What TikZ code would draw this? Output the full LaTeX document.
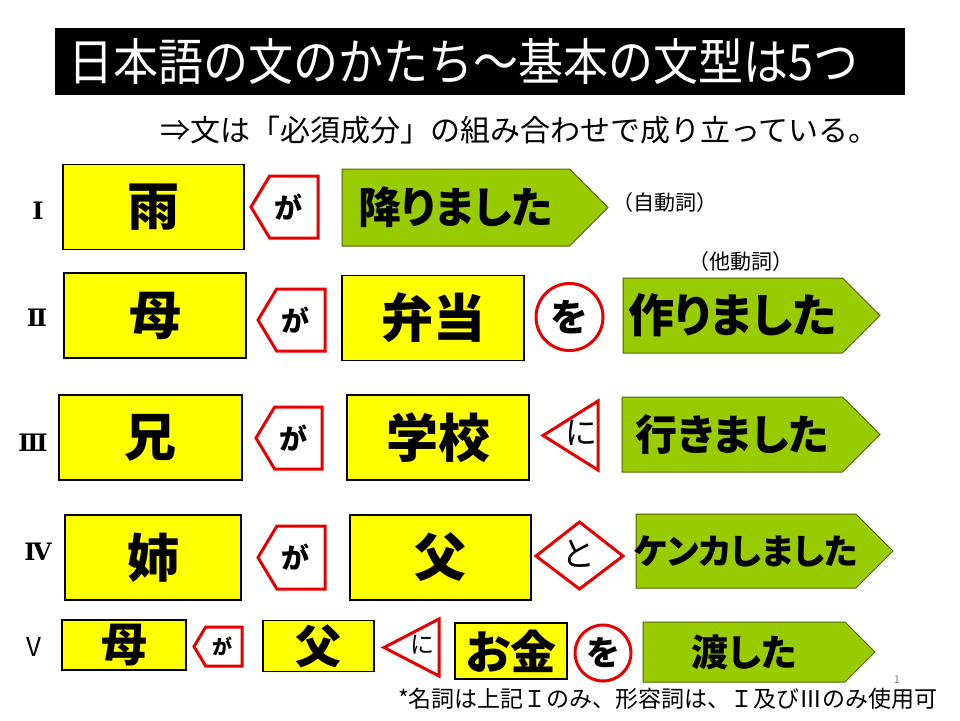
\documentclass[tikz,border=0pt]{standalone}
\usepackage{fontspec}
\usepackage{tikz}
\usetikzlibrary{positioning}
\newfontfamily\jp[RawFeature=+palt]{Noto Sans CJK JP}
\newfontfamily\jpr{Noto Sans CJK JP}
\newfontfamily\romfont{DejaVu Serif}
\newcommand{\fsz}[1]{\fontsize{#1}{#1}\selectfont}
\definecolor{nounyellow}{RGB}{255,255,0}
\definecolor{verbgreen}{RGB}{153,204,0}
\definecolor{verbedge}{RGB}{80,100,0}
\definecolor{particlered}{RGB}{230,0,0}

% green verb arrow: [opts]{name}{left}{tip}{top}{bottom}{text}
\newcommand{\verbarrow}[7][]{%
  \draw[verb] (#3,#5) -- ({#4-(#6-#5)/2},#5) -- (#4,{(#5+#6)/2}) -- ({#4-(#6-#5)/2},#6) -- (#3,#6) -- cycle;
  \node[verbtext,#1] (#2) at ({(#3+#4-(#6-#5)/2)/2},{(#5+#6)/2}) {#7};}
% ga tag (pentagon pointing left): [opts]{name}{tip}{right}{top}{bottom}
\newcommand{\gatag}[6][]{%
  \draw[particle] (#3,{(#5+#6)/2}) -- ({#3+0.3*(#6-#5)},#5) -- (#4,#5) -- (#4,#6) -- ({#3+0.3*(#6-#5)},#6) -- cycle;
  \node[particletext,#1] (#2) at ({(#3+#4)/2+4},{(#5+#6)/2}) {が};}
% ni tag (triangle pointing left): [opts]{name}{tip}{right}{top}{bottom}
\newcommand{\nitag}[6][]{%
  \draw[particle] (#3,{(#5+#6)/2}) -- (#4,#5) -- (#4,#6) -- cycle;
  \node[particletext,font=\jp\fsz{32},#1] (#2) at ({#4-0.3*(#4-#3)},{(#5+#6)/2-3}) {に};}

\begin{document}
\begin{tikzpicture}[x=1pt, y=-1pt,
    noun/.style={draw=black, line width=1.5pt, fill=nounyellow, inner sep=0,
      minimum width=182pt, minimum height=85pt, font=\jp\bfseries\fsz{52}},
    smallnoun/.style={noun, font=\jp\bfseries\fsz{46}},
    verb/.style={draw=verbedge, line width=1pt, fill=verbgreen},
    verbtext/.style={inner sep=0, font=\jp\bfseries\fsz{43}},
    particle/.style={draw=particlered, line width=3pt, fill=white, line join=miter},
    particletext/.style={inner sep=0, font=\jp\bfseries\fsz{28}},
    wo/.style={circle, draw=particlered, line width=3pt, fill=white, inner sep=0,
      minimum size=67pt, font=\jp\bfseries\fsz{38}},
    rownum/.style={inner sep=0, font=\romfont\bfseries\fsz{24}},
    note/.style={inner sep=0, font=\jpr\fsz{21}}
]
    \useasboundingbox (0,0) rectangle (960,720);

    % title
    \fill[black] (55,28) rectangle (905,95);
    \node[anchor=west, inner sep=0, text=white, font=\jpr\fsz{50}, transform shape, xscale=0.9]
      (title) at (68,62) {日本語の文のかたち〜基本の文型は5つ};
    \node[anchor=west, inner sep=0, font=\jpr\fsz{30}] (sub) at (160,130)
      {⇒文は「必須成分」の組み合わせで成り立っている。};

    % row I
    \node[rownum] (r1) at (38,211) {Ⅰ};
    \node[noun, minimum width=181pt] (ame) at (153.5,207) {雨};
    \gatag{ga1}{251}{318}{176}{238}
    \verbarrow{furi}{342}{608}{169}{246}{降りました}
    \node[note] (jido) at (665,203) {（自動詞）};

    % row II
    \node[rownum] (r2) at (37,318) {Ⅱ};
    \node[noun] (haha) at (155,315.5) {母};
    \gatag{ga2}{258}{325}{289}{351}
    \node[noun] (bento) at (433,318) {弁当};
    \node[wo] (wo2) at (569.5,317) {を};
    \verbarrow[font=\jp\bfseries\fsz{46}]{tsukuri}{623}{880}{278}{353}{作りました}
    \node[note] (tado) at (741,262) {（他動詞）};

    % row III
    \node[rownum] (r3) at (33,443) {Ⅲ};
    \node[noun, minimum width=183pt] (ani) at (150.5,437.5) {兄};
    \gatag{ga3}{256}{322}{407}{469}
    \node[noun] (gakko) at (438,437.5) {学校};
    \nitag{ni3}{543}{598}{401}{470}
    \verbarrow[font=\jp\bfseries\fsz{42}]{iki}{622}{880}{397}{472}{行きました}

    % row IV
    \node[rownum] (r4) at (38,552) {Ⅳ};
    \node[noun, minimum width=176pt] (ane) at (153,557.5) {姉};
    \gatag{ga4}{258}{325}{526}{589}
    \node[noun, minimum width=181pt] (chichi) at (440.5,557.5) {父};
    \draw[particle] (536,556) -- (579.5,522) -- (623,556) -- (579.5,589) -- cycle;
    \node[particletext, font=\jp\fsz{34}] (to4) at (577,554) {と};
    \verbarrow[font=\jp\bfseries\fsz{35}]{kenka}{636}{893}{514}{588}{ケンカしました}

    % row V
    \node[inner sep=0, font=\jpr\fsz{26}] (r5) at (34,647) {V};
    \node[smallnoun, minimum width=124pt, minimum height=50pt] (haha5) at (124,645) {母};
    \gatag[font=\jp\bfseries\fsz{20}]{ga5}{194}{242}{627}{666}
    \node[smallnoun, minimum width=111pt, minimum height=51pt] (chichi5) at (318.5,646) {父};
    \nitag[font=\jp\fsz{24}]{ni5}{384}{439}{619}{676}
    \node[smallnoun, minimum width=112pt, minimum height=56pt] (okane) at (511,651) {お金};
    \node[wo, minimum size=56pt, font=\jp\bfseries\fsz{34}] (wo5) at (603,653) {を};
    \verbarrow[font=\jp\bfseries\fsz{37}]{watashi}{643}{875}{622}{682}{渡した}

    % footnote
    \node[anchor=west, inner sep=0, font=\jpr\fsz{23}] (foot) at (398,699)
      {*名詞は上記Ｉのみ、形容詞は、Ｉ及びⅢのみ使用可};
    \node[inner sep=0, text=gray, font=\jpr\fsz{11}] (page) at (897,680) {1};
\end{tikzpicture}
\end{document}
